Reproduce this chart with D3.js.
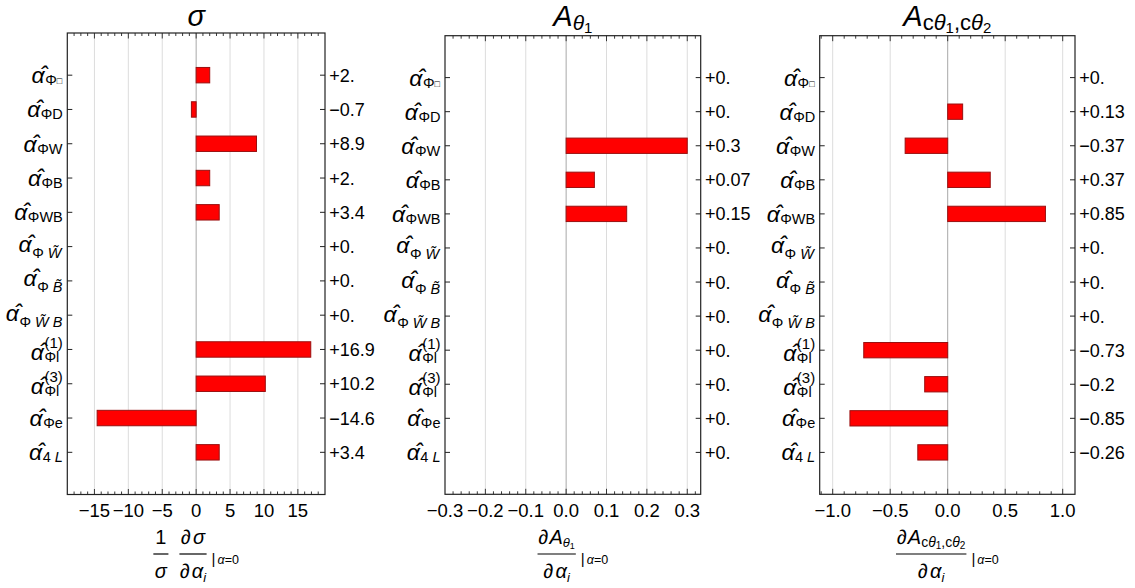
<!DOCTYPE html>
<html><head><meta charset="utf-8">
<script src="https://cdn.jsdelivr.net/npm/d3@7"></script>
<style>
body{margin:0;background:#fff}
svg{display:block}
text{font-family:"Liberation Sans",Arial,"DejaVu Sans",sans-serif;fill:#000}
</style>
</head><body>
<svg id="chart" width="1135" height="588"></svg>
<script>
// ---------------- data ----------------
// category labels: alpha-hat with subscript segments [text, style] and optional superscript
const categorySubs = [
  [["Φ"], ["□", "box"]],
  [["ΦD"]],
  [["ΦW"]],
  [["ΦB"]],
  [["ΦWB"]],
  [["Φ "], ["W\u0303", "it"]],
  [["Φ "], ["B\u0303", "it"]],
  [["Φ "], ["W\u0303", "it"], [" "], ["B", "it"]],
  [["Φl"]],
  [["Φl"]],
  [["Φe"]],
  [["4 "], ["L", "it"]]
];
const categorySups = ["", "", "", "", "", "", "", "", "(1)", "(3)", "", ""];

const sigmaValues   = [2.0, -0.7, 8.9, 2.0, 3.4, 0, 0, 0, 16.9, 10.2, -14.6, 3.4];
const aTheta1Values = [0, 0, 0.30, 0.07, 0.15, 0, 0, 0, 0, 0, 0, 0];
const aCCValues     = [0, 0.13, -0.37, 0.37, 0.85, 0, 0, 0, -0.73, -0.20, -0.85, -0.26];

const sigmaTicks   = [-15, -10, -5, 0, 5, 10, 15];
const aTheta1Ticks = [-0.3, -0.2, -0.1, 0, 0.1, 0.2, 0.3];
const aCCTicks     = [-1, -0.5, 0, 0.5, 1];

// ---------------- layout ----------------
const svg = d3.select("#chart");
const panels = [
  {values: sigmaValues, ticks: sigmaTicks, domain: [-19, 19], minor: 1, fmt: d3.format("d"),
   x0: 67.3, x1: 325, top: 33, bottom: 494.5, title: "sigma", xlab: "sigma"},
  {values: aTheta1Values, ticks: aTheta1Ticks, domain: [-0.3, 0.3333], minor: 0.02, fmt: d3.format(".1f"),
   x0: 445, x1: 700.7, top: 35.7, bottom: 494.3, title: "th1", xlab: "th1"},
  {values: aCCValues, ticks: aCCTicks, domain: [-1.113, 1.107], minor: 0.1, fmt: d3.format(".1f"),
   x0: 819.7, x1: 1075, top: 35.7, bottom: 494.3, title: "cc", xlab: "cc"}
];

function fmtVal(v) {
  const a = Math.abs(v);
  return (v < 0 ? "\u2212" : "+") + (Number.isInteger(a) ? a + "." : String(a));
}

function addSegs(text, segs) {
  segs.forEach(s => {
    const ts = text.append("tspan").text(s.t);
    if (s.it) ts.style("font-style", "italic");
    if (s.size) ts.style("font-size", s.size + "px");
    if (s.dy) ts.attr("dy", s.dy);
    if (s.dx) ts.attr("dx", s.dx);
  });
  return text;
}

panels.forEach((p, pi) => {
  const g = svg.append("g");
  const x = d3.scaleLinear().domain(p.domain).range([p.x0, p.x1]);
  const y = d3.scalePoint().domain(d3.range(p.values.length)).range([p.top, p.bottom]).padding(1.23);

  // grid lines
  g.selectAll("line.grid").data(p.ticks.filter(t => x(t) > p.x0 + 1 && x(t) < p.x1 - 1)).join("line")
    .attr("x1", d => x(d)).attr("x2", d => x(d)).attr("y1", p.top).attr("y2", p.bottom)
    .attr("stroke", d => d === 0 ? "#a8a8a8" : "#dcdcdc").attr("stroke-width", 1);

  // bars
  const bh = y.step() * 0.45;
  g.selectAll("rect.bar").data(p.values.map((v, i) => ({v, i})).filter(d => d.v !== 0)).join("rect")
    .attr("x", d => Math.min(x(0), x(d.v))).attr("width", d => Math.abs(x(d.v) - x(0)))
    .attr("y", d => y(d.i) - bh / 2).attr("height", bh)
    .attr("fill", "#ff0000").attr("stroke", "#9a1010").attr("stroke-width", 1);

  // frame
  g.append("rect").attr("x", p.x0).attr("y", p.top).attr("width", p.x1 - p.x0).attr("height", p.bottom - p.top)
    .attr("fill", "none").attr("stroke", "#222").attr("stroke-width", 1.2);

  // minor/major ticks on top and bottom
  const mstep = p.minor;
  const minors = d3.range(Math.ceil(p.domain[0] / mstep - 1e-6), Math.floor(p.domain[1] / mstep + 1e-6) + 1)
    .map(k => k * mstep).filter(t => x(t) > p.x0 + 1 && x(t) < p.x1 - 1);
  const isMajor = t => p.ticks.some(m => Math.abs(m - t) < mstep / 10);
  [p.top, p.bottom].forEach((yy, k) => {
    const dir = k === 0 ? 1 : -1;
    g.selectAll(null).data(minors).join("line")
      .attr("x1", d => x(d)).attr("x2", d => x(d))
      .attr("y1", yy).attr("y2", d => yy + dir * (isMajor(d) ? 5.5 : 3))
      .attr("stroke", "#222").attr("stroke-width", 0.9);
  });

  // x tick labels
  g.selectAll("text.xt").data(p.ticks).join("text")
    .attr("x", d => x(d)).attr("y", p.bottom + 22.5)
    .attr("text-anchor", "middle").style("font-size", "18.5px")
    .text(d => p.fmt(d));

  // left/right row ticks
  p.values.forEach((v, i) => {
    g.append("line").attr("x1", p.x0).attr("x2", p.x0 + 5).attr("y1", y(i)).attr("y2", y(i)).attr("stroke", "#222");
    g.append("line").attr("x1", p.x1 - 5).attr("x2", p.x1).attr("y1", y(i)).attr("y2", y(i)).attr("stroke", "#222");
  });

  // right value labels
  g.selectAll("text.val").data(p.values).join("text")
    .attr("x", p.x1 + 4.3).attr("y", (d, i) => y(i) + 6.5)
    .style("font-size", "18px").text(d => fmtVal(d));

  // left category labels (one text element each, alpha with combining hat)
  categorySubs.forEach((subs, i) => {
    const hasSup = categorySups[i] !== "";
    const hasTilde = subs.some(s => s[1] === "it" && s[0].length > 1);
    const base = y(i) + 8 + (hasSup ? 2.5 : 0) + (hasTilde ? -2.5 : 0);
    const t = g.append("text").attr("x", 0).attr("y", base);
    const a = t.append("tspan").style("font-size", "23px").style("font-style", "italic").text("α\u0302");
    const aw = a.node().getComputedTextLength();
    let first = true;
    subs.forEach(s => {
      const ts = t.append("tspan").style("font-size", "14.5px").text(s[0]);
      if (first) { ts.attr("x", aw + 0.5).attr("y", base + (hasTilde ? 6 : 2)); first = false; }
      if (s[1] === "it") ts.style("font-style", "italic");
      if (s[1] === "box") ts.style("font-size", "9px").attr("dy", -1);
    });
    if (hasSup) {
      t.append("tspan").attr("x", aw + 0.5).attr("y", base - 12).style("font-size", "15px").text(categorySups[i]);
    }
    const bb = t.node().getBBox();
    t.attr("transform", `translate(${p.x0 - 4.5 - (bb.x + bb.width)},0)`);
  });

  // title
  const cx = (p.x0 + p.x1) / 2;
  const tt = g.append("text").attr("x", cx).attr("y", 26).attr("text-anchor", "middle").style("font-size", "29px");
  if (p.title === "sigma") {
    addSegs(tt, [{t: "σ", it: true}]);
  } else if (p.title === "th1") {
    addSegs(tt, [{t: "A", it: true}, {t: "θ", it: true, size: 21, dy: 4}, {t: "1", size: 15, dy: 3}]);
  } else {
    addSegs(tt, [{t: "A", it: true}, {t: "c", size: 22, dy: 4}, {t: "θ", it: true, size: 22},
      {t: "1", size: 15, dy: 3}, {t: ",c", size: 22, dy: -3}, {t: "θ", it: true, size: 22},
      {t: "2", size: 15, dy: 3}]);
  }

  // x-axis label built from fractions
  const lab = g.append("g");
  const numY = 544, barY = 554, denY = 577.5;
  let cur = 0;
  function frac(numSegs, denSegs, fs) {
    const n = addSegs(lab.append("text").attr("y", numY).attr("text-anchor", "middle").style("font-size", fs + "px"), numSegs);
    const d = addSegs(lab.append("text").attr("y", denY).attr("text-anchor", "middle").style("font-size", fs + "px"), denSegs);
    const w = Math.max(n.node().getComputedTextLength(), d.node().getComputedTextLength()) + 3;
    n.attr("x", cur + w / 2); d.attr("x", cur + w / 2);
    lab.append("line").attr("x1", cur).attr("x2", cur + w).attr("y1", barY).attr("y2", barY).attr("stroke", "#000").attr("stroke-width", 1.2);
    cur += w;
  }
  const dAlpha = [{t: "∂", it: true}, {t: "α", it: true, dx: 2}, {t: "i", it: true, size: 13, dy: 4}];
  if (p.xlab === "sigma") {
    frac([{t: "1"}], [{t: "σ", it: true}], 20);
    cur += 11;
    frac([{t: "∂", it: true}, {t: "σ", it: true, dx: 2}], dAlpha, 20);
  } else if (p.xlab === "th1") {
    frac([{t: "∂", it: true}, {t: "A", it: true, dx: 1}, {t: "θ", it: true, size: 13, dy: 3}, {t: "1", size: 9, dy: 2}], dAlpha, 20);
  } else {
    frac([{t: "∂", it: true}, {t: "A", it: true, dx: 1}, {t: "c", size: 14, dy: 3}, {t: "θ", it: true, size: 14},
      {t: "1", size: 10, dy: 2}, {t: ",c", size: 14, dy: -2}, {t: "θ", it: true, size: 14}, {t: "2", size: 10, dy: 2}], dAlpha, 20);
  }
  cur += 5;
  const bar = lab.append("text").attr("x", cur).attr("y", 564).style("font-size", "15px").text("|");
  cur += bar.node().getComputedTextLength() + 2;
  addSegs(lab.append("text").attr("x", cur).attr("y", 564).style("font-size", "12.5px"),
    [{t: "α", it: true}, {t: "=0"}]);
  const lb = lab.node().getBBox();
  lab.attr("transform", `translate(${cx - (lb.x + lb.width / 2)},0)`);
});
</script>
</body></html>
